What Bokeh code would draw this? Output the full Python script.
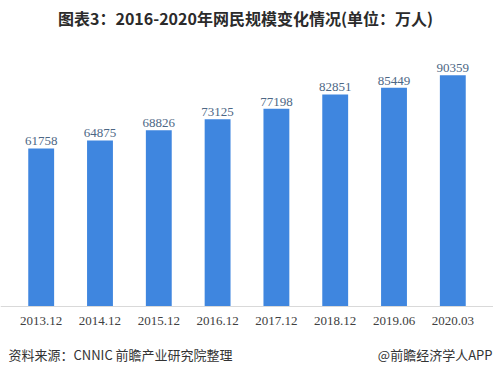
from bokeh.plotting import figure
from bokeh.models import ColumnDataSource, FactorRange, Range1d, Label, LabelSet
from bokeh.core.properties import value
from bokeh.embed import file_html
from bokeh.resources import INLINE

periods = ["2013.12", "2014.12", "2015.12", "2016.12", "2017.12", "2018.12", "2019.06", "2020.03"]
users = [61758, 64875, 68826, 73125, 77198, 82851, 85449, 90359]
title_text = "图表3：2016-2020年网民规模变化情况(单位：万人)"
source_text = "资料来源：CNNIC 前瞻产业研究院整理"
brand_text = "@前瞻经济学人APP"

src = ColumnDataSource(dict(x=periods, y=users, lbl=[str(v) for v in users]))

W, H = 493, 373
BASE_PX = 306          # pixel row of the baseline from the top
PX_PER_UNIT = 0.00256  # vertical scale
p = figure(width=W, height=H, output_backend="svg", toolbar_location=None,
           x_range=FactorRange(*periods, range_padding=0.192, range_padding_units="absolute"),
           y_range=Range1d(-(H - BASE_PX) / PX_PER_UNIT, BASE_PX / PX_PER_UNIT),
           min_border=0, min_border_left=0, min_border_right=0,
           min_border_top=0, min_border_bottom=0)
p.outline_line_color = None
p.background_fill_color = "white"
p.border_fill_color = "white"
p.xgrid.visible = False
p.ygrid.visible = False
p.yaxis.visible = False

p.vbar(x="x", top="y", width=0.44, source=src, color="#3f86df", line_color=None)

labels = LabelSet(x="x", y="y", text="lbl", source=src, text_align="center",
                  text_baseline="bottom", y_offset=3, text_font=value("Liberation Serif"),
                  text_font_size="13px", text_color="#4d6785")
p.add_layout(labels)

ax = p.xaxis[0]
ax.fixed_location = 0
ax.axis_line_color = "#d9d9d9"
ax.axis_line_width = 1
ax.major_tick_line_color = None
ax.minor_tick_line_color = None
ax.major_label_standoff = 4
ax.major_label_text_font = "Liberation Serif"
ax.major_label_text_font_size = "13px"
ax.major_label_text_color = "#404040"

# screen units are relative to the plot frame (origin at frame bottom-left)
p.add_layout(Label(x=245, y=H - 17, x_units="screen", y_units="screen", text=title_text,
                   text_align="center", text_baseline="middle",
                   text_font="Noto Sans CJK SC", text_font_size="16px",
                   text_font_style="bold", text_color="#2b2b2b"))
p.add_layout(Label(x=8, y=H - 354, x_units="screen", y_units="screen", text=source_text,
                   text_align="left", text_baseline="middle",
                   text_font="Noto Sans CJK SC", text_font_size="13px",
                   text_color="#333333"))
p.add_layout(Label(x=492, y=H - 354, x_units="screen", y_units="screen", text=brand_text,
                   text_align="right", text_baseline="middle",
                   text_font="Noto Sans CJK SC", text_font_size="13px",
                   text_color="#333333"))

open("out.html", "w").write(file_html(p, INLINE))
